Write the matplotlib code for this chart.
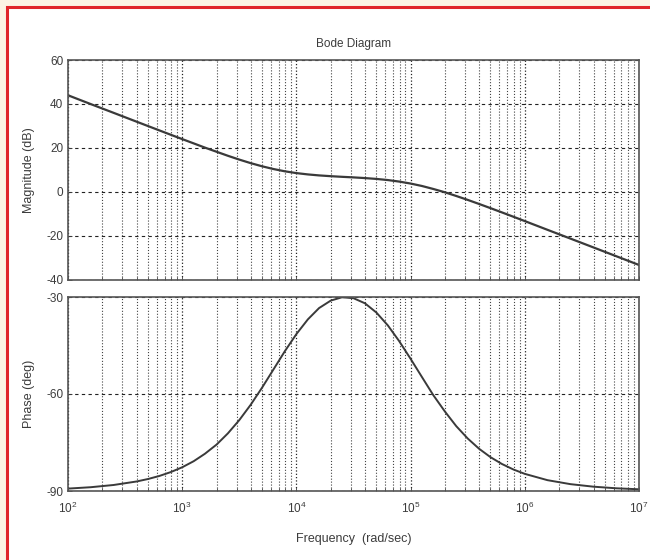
import matplotlib
matplotlib.use("Agg")
import matplotlib.pyplot as plt
from matplotlib.patches import Rectangle
from matplotlib.ticker import LogLocator, FixedLocator

plt.rcParams['font.family'] = ['Liberation Sans', 'DejaVu Sans']
plt.rcParams['axes.unicode_minus'] = False

# frequency samples (rad/sec) and the response read at each one
freq = [1.00e2, 1.58e2, 2.51e2, 3.98e2, 5.01e2, 6.31e2, 7.94e2, 1.00e3, 1.26e3,
        1.58e3, 2.00e3, 2.51e3, 3.16e3, 3.98e3, 5.01e3, 6.31e3, 7.94e3, 1.00e4,
        1.26e4, 1.58e4, 2.00e4, 2.51e4, 3.16e4, 3.98e4, 5.01e4, 6.31e4, 7.94e4,
        1.00e5, 1.26e5, 1.58e5, 2.00e5, 2.51e5, 3.16e5, 3.98e5, 5.01e5, 6.31e5,
        7.94e5, 1.00e6, 1.58e6, 2.51e6, 3.98e6, 6.31e6, 1.00e7]
mag_db = [43.97, 39.97, 35.98, 31.98, 29.99, 28.00, 26.02, 24.05, 22.10,
          20.18, 18.29, 16.47, 14.73, 13.12, 11.68, 10.43, 9.40, 8.59,
          7.99, 7.54, 7.19, 6.90, 6.64, 6.33, 5.95, 5.43, 4.74,
          3.84, 2.72, 1.38, -0.14, -1.81, -3.58, -5.44, -7.34, -9.28,
          -11.24, -13.22, -17.19, -21.18, -25.17, -29.17, -33.17]
phase_deg = [-89.26, -88.83, -88.14, -87.06, -86.30, -85.35, -84.15, -82.66, -80.79,
             -78.49, -75.64, -72.19, -68.08, -63.32, -58.01, -52.36, -46.71, -41.46,
             -36.92, -33.42, -31.11, -30.08, -30.37, -31.94, -34.79, -38.75, -43.64,
             -49.12, -54.81, -60.35, -65.45, -69.94, -73.75, -76.94, -79.54, -81.65,
             -83.34, -84.70, -86.65, -87.88, -88.66, -89.16, -89.47]

mag_ticks = [-40, -20, 0, 20, 40, 60]
phase_ticks = [-90, -60, -30]

fig = plt.figure(figsize=(6.5, 5.6), dpi=100, facecolor='#fcf2e4')

# white panel with the red frame, kept behind the axes
fig.patches.append(Rectangle((7 / 650, -0.05), 1.0, 1 - 7 / 560 + 0.05,
                             transform=fig.transFigure, facecolor='white',
                             edgecolor='#e0242a', linewidth=2.2, zorder=-10))

ax_mag = fig.add_axes([68 / 650, 1 - 280 / 560, 571 / 650, 220 / 560])
ax_ph = fig.add_axes([68 / 650, 1 - 491 / 560, 571 / 650, 194 / 560])

line_col = '#3a3a3a'
text_col = '#3c3c3c'

for ax in (ax_mag, ax_ph):
    ax.set_xscale('log')
    ax.set_xlim(1e2, 1e7)
    ax.set_facecolor('white')
    ax.xaxis.set_major_locator(LogLocator(base=10))
    ax.xaxis.set_minor_locator(LogLocator(base=10, subs=range(2, 10)))
    ax.grid(True, which='major', axis='x', color='#222222', linestyle=':', linewidth=0.9)
    ax.grid(True, which='minor', axis='x', color='#444444', linestyle=':', linewidth=0.8)
    ax.grid(True, which='major', axis='y', color='#222222', linestyle=(0, (3, 3)), linewidth=0.8)
    ax.tick_params(which='both', direction='in', colors=text_col, labelsize=8.5,
                   length=3, width=0.6)
    ax.tick_params(which='minor', length=2)
    for sp in ax.spines.values():
        sp.set_color('#555555')
        sp.set_linewidth(1.2)

ax_mag.plot(freq, mag_db, color=line_col, linewidth=1.6)
ax_mag.set_ylim(-40, 60)
ax_mag.yaxis.set_major_locator(FixedLocator(mag_ticks))
ax_mag.tick_params(axis='x', which='both', labelbottom=False)
ax_mag.set_ylabel('Magnitude (dB)', fontsize=9, color=text_col, labelpad=8)
ax_mag.set_title('Bode Diagram', fontsize=8.5, color=text_col, pad=9)

ax_ph.plot(freq, phase_deg, color=line_col, linewidth=1.4)
ax_ph.set_ylim(-90, -30)
ax_ph.yaxis.set_major_locator(FixedLocator(phase_ticks))
ax_ph.set_ylabel('Phase (deg)', fontsize=9, color=text_col, labelpad=8)
ax_ph.set_xlabel('Frequency  (rad/sec)', fontsize=9, color=text_col, labelpad=12)
ax_ph.tick_params(axis='x', pad=7)

fig.savefig('out.png', dpi=100, facecolor=fig.get_facecolor())
